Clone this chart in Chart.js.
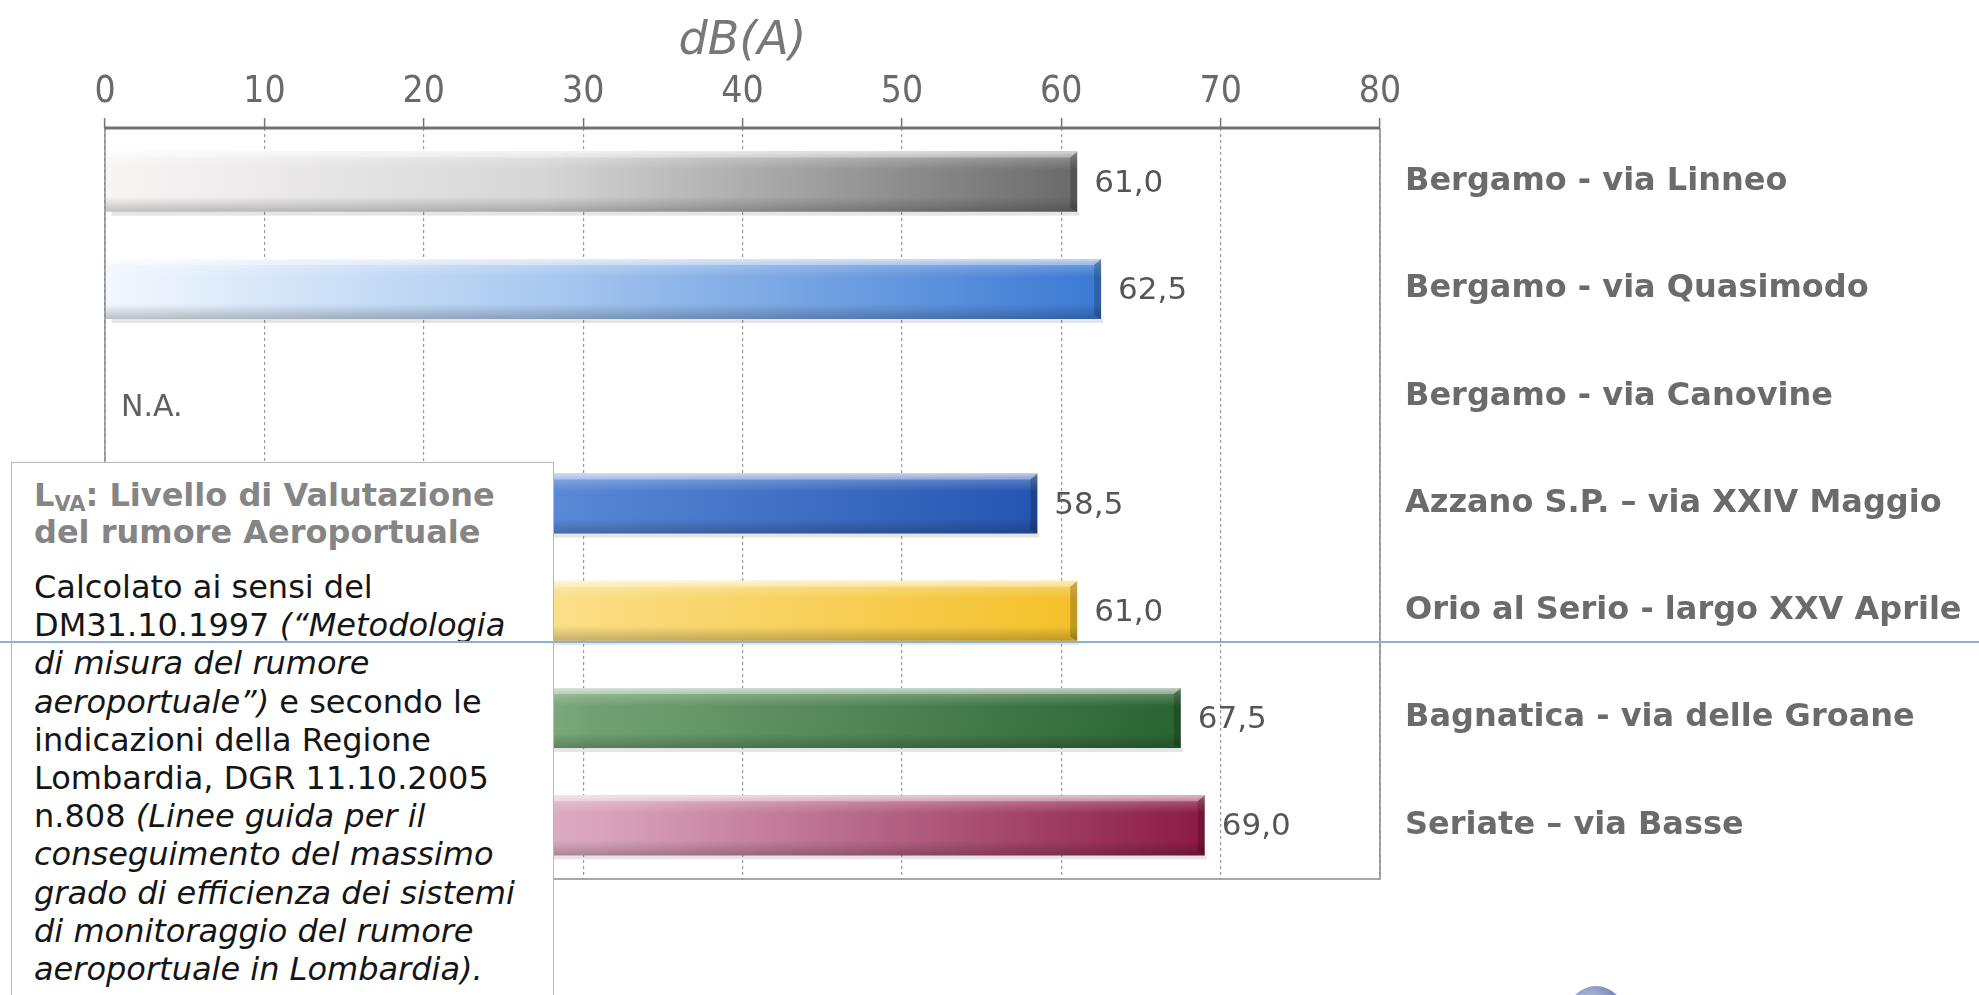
<!DOCTYPE html>
<html>
<head>
<meta charset="utf-8">
<script src="https://cdn.jsdelivr.net/npm/chart.js@4/dist/chart.umd.min.js"></script>
<style>
  html, body { margin: 0; padding: 0; background: #fff; overflow: hidden; }
  #wrap { position: relative; width: 1979px; height: 995px; }
  #c { position: absolute; left: 0; top: 0; }
  #note {
    position: absolute; left: 11px; top: 462px; width: 543px; height: 560px;
    background: #fff; border: 1.5px solid #b8b8b8; box-sizing: border-box;
    padding: 14px 0 0 22px; font-family: 'DejaVu Sans', Verdana, sans-serif;
  }
  #note .nt { font-weight: bold; color: #858585; font-size: 32px; line-height: 37px; }
  #note .nt sub { font-size: 21px; vertical-align: -5px; line-height: 0; }
  #note .nb { margin-top: 17px; color: #151515; font-size: 32px; line-height: 38.2px; white-space: nowrap; }
  #sep { position: absolute; left: 0; top: 641px; width: 1979px; height: 2px; background: #8fb0cf; }
  #logo { position: absolute; left: 1568px; top: 986px; width: 56px; height: 56px; border-radius: 50%;
    background: radial-gradient(circle at 40% 35%, #c9d3ea, #5d6fa6 70%); }
</style>
</head>
<body>
<div id="wrap">
  <canvas id="c" width="1979" height="995"></canvas>
  <div id="note">
    <div class="nt">L<sub>VA</sub>: Livello di Valutazione<br>del rumore Aeroportuale</div>
    <div class="nb">Calcolato ai sensi del<br>DM31.10.1997 <i>(“Metodologia<br>di misura del rumore<br>aeroportuale”)</i> e secondo le<br>indicazioni della Regione<br>Lombardia, DGR 11.10.2005<br>n.808 <i>(Linee guida per il<br>conseguimento del massimo<br>grado di efficienza dei sistemi<br>di monitoraggio del rumore<br>aeroportuale in Lombardia).</i></div>
  </div>
  <div id="sep"></div>
  <div id="logo"></div>
</div>
<script>
// ---- data ----
const categories = [
  'Bergamo - via Linneo',
  'Bergamo - via Quasimodo',
  'Bergamo - via Canovine',
  'Azzano S.P. – via XXIV Maggio',
  'Orio al Serio - largo XXV Aprile',
  'Bagnatica - via delle Groane',
  'Seriate – via Basse'
];
const values = [61.0, 62.5, null, 58.5, 61.0, 67.5, 69.0];
const xTicks = [0, 10, 20, 30, 40, 50, 60, 70, 80];
const axisTitle = 'dB(A)';
const missingLabel = 'N.A.';

// ---- styles ----
const lightColors = ['#f8f5f5', '#f3f8fe', '#ffffff', '#dfe9f8', '#fff8de', '#e7f1e7', '#f9eef3'];
const midColors   = ['#d6d6d6', '#a8c8ef', '#ffffff', '#5d8cd8', '#fbe08b', '#72a273', '#d9a4bd'];
const endColors   = ['#6a6a6a', '#3b79d3', '#ffffff', '#2555b1', '#f4c12a', '#2a6433', '#8b1a44'];

function fmt(v) { return v.toFixed(1).replace('.', ','); }

const decor = {
  id: 'decor',
  afterDatasetsDraw(chart) {
    const ctx = chart.ctx;
    const ca = chart.chartArea;
    const meta = chart.getDatasetMeta(0);
    const xs = chart.scales.x;
    meta.data.forEach((bar, i) => {
      const v = values[i];
      const p = bar.getProps(['x', 'y', 'base', 'height'], true);
      if (v == null) {
        ctx.save();
        ctx.font = '30px "DejaVu Sans", Verdana, sans-serif';
        ctx.fillStyle = '#606060';
        ctx.textBaseline = 'middle';
        ctx.fillText(missingLabel, xs.getPixelForValue(0) + 16, p.y + 12);
        ctx.restore();
        return;
      }
      const top = p.y - p.height / 2, bot = p.y + p.height / 2;
      const left = p.base, right = p.x;
      ctx.save();
      ctx.fillStyle = 'rgba(0,0,0,0.10)';
      ctx.fillRect(left + 6, bot, right - left - 4, 4);
      let g = ctx.createLinearGradient(0, top, 0, top + p.height * 0.3);
      g.addColorStop(0, 'rgba(255,255,255,0.55)');
      g.addColorStop(0.25, 'rgba(255,255,255,0.25)');
      g.addColorStop(1, 'rgba(255,255,255,0)');
      ctx.fillStyle = g;
      ctx.fillRect(left, top, right - left, p.height * 0.3);
      g = ctx.createLinearGradient(0, bot - p.height * 0.25, 0, bot);
      g.addColorStop(0, 'rgba(0,0,0,0)');
      g.addColorStop(1, 'rgba(0,0,0,0.22)');
      ctx.fillStyle = g;
      ctx.fillRect(left, bot - p.height * 0.25, right - left, p.height * 0.25);
      ctx.fillStyle = 'rgba(0,0,0,0.20)';
      ctx.beginPath();
      ctx.moveTo(right - 7, top + 6);
      ctx.lineTo(right, top);
      ctx.lineTo(right, bot);
      ctx.lineTo(right - 7, bot - 4);
      ctx.closePath();
      ctx.fill();
      ctx.fillStyle = 'rgba(255,255,255,0.35)';
      ctx.beginPath();
      ctx.moveTo(left, top);
      ctx.lineTo(right, top);
      ctx.lineTo(right - 7, top + 6);
      ctx.lineTo(left, top + 6);
      ctx.closePath();
      ctx.fill();
      ctx.font = '31px "DejaVu Sans", Verdana, sans-serif';
      ctx.fillStyle = '#555555';
      ctx.textBaseline = 'middle';
      ctx.fillText(fmt(v), right + 17, p.y + 2);
      ctx.restore();
    });
    ctx.save();
    ctx.strokeStyle = '#8a8a8a';
    ctx.lineWidth = 1.5;
    ctx.beginPath();
    ctx.moveTo(ca.left, ca.top); ctx.lineTo(ca.left, ca.bottom);
    ctx.lineTo(ca.right, ca.bottom); ctx.lineTo(ca.right, ca.top);
    ctx.stroke();
    ctx.strokeStyle = '#727272';
    ctx.lineWidth = 3;
    ctx.beginPath();
    ctx.moveTo(ca.left, ca.top); ctx.lineTo(ca.right, ca.top);
    ctx.stroke();
    ctx.restore();
  }
};

new Chart(document.getElementById('c'), {
  type: 'bar',
  data: {
    labels: categories,
    datasets: [{
      data: values,
      borderWidth: 0,
      barPercentage: 0.56,
      categoryPercentage: 1.0,
      backgroundColor: (c) => {
        const i = c.dataIndex;
        const chart = c.chart;
        if (c.type !== 'data' || !chart.chartArea || !chart.scales.x) return endColors[i] || '#888';
        const v = values[i];
        if (v == null) return 'rgba(0,0,0,0)';
        const xs = chart.scales.x;
        const x0 = xs.getPixelForValue(0), x1 = xs.getPixelForValue(v);
        const g = chart.ctx.createLinearGradient(x0, 0, x1, 0);
        g.addColorStop(0, lightColors[i]);
        g.addColorStop(0.45, midColors[i]);
        g.addColorStop(1, endColors[i]);
        return g;
      }
    }]
  },
  options: {
    indexAxis: 'y',
    responsive: false,
    animation: false,
    devicePixelRatio: 1,
    layout: { padding: { left: 105, right: 0, top: 0, bottom: 116 } },
    plugins: { legend: { display: false }, tooltip: { enabled: false } },
    scales: {
      x: {
        position: 'top',
        min: xTicks[0],
        max: xTicks[xTicks.length - 1],
        afterBuildTicks: (s) => { s.ticks = xTicks.map(v => ({ value: v })); },
        afterFit: (s) => { s.height = 128; },
        ticks: {
          font: { family: "'Liberation Sans Narrow', 'DejaVu Sans Condensed', sans-serif", size: 37 },
          color: '#6a6a6a',
          padding: 3
        },
        grid: {
          color: '#9a9a9a',
          lineWidth: 1.2,
          tickLength: 10,
          tickColor: '#777777',
          tickWidth: 1.5,
          tickBorderDash: []
        },
        border: { display: false, dash: [3, 3] },
        title: {
          display: true,
          text: axisTitle,
          color: '#787878',
          font: { family: "'DejaVu Sans', Verdana, sans-serif", size: 46, style: 'italic' },
          padding: { top: 14, bottom: 0 }
        }
      },
      y: {
        position: 'right',
        afterFit: (s) => { s.width = 599; },
        grid: { display: false },
        border: { display: false },
        ticks: {
          crossAlign: 'near',
          padding: 17,
          color: '#6b6b6b',
          font: { family: "'DejaVu Sans', Verdana, sans-serif", size: 32, weight: 'bold' }
        }
      }
    }
  },
  plugins: [decor]
});
</script>
</body>
</html>
